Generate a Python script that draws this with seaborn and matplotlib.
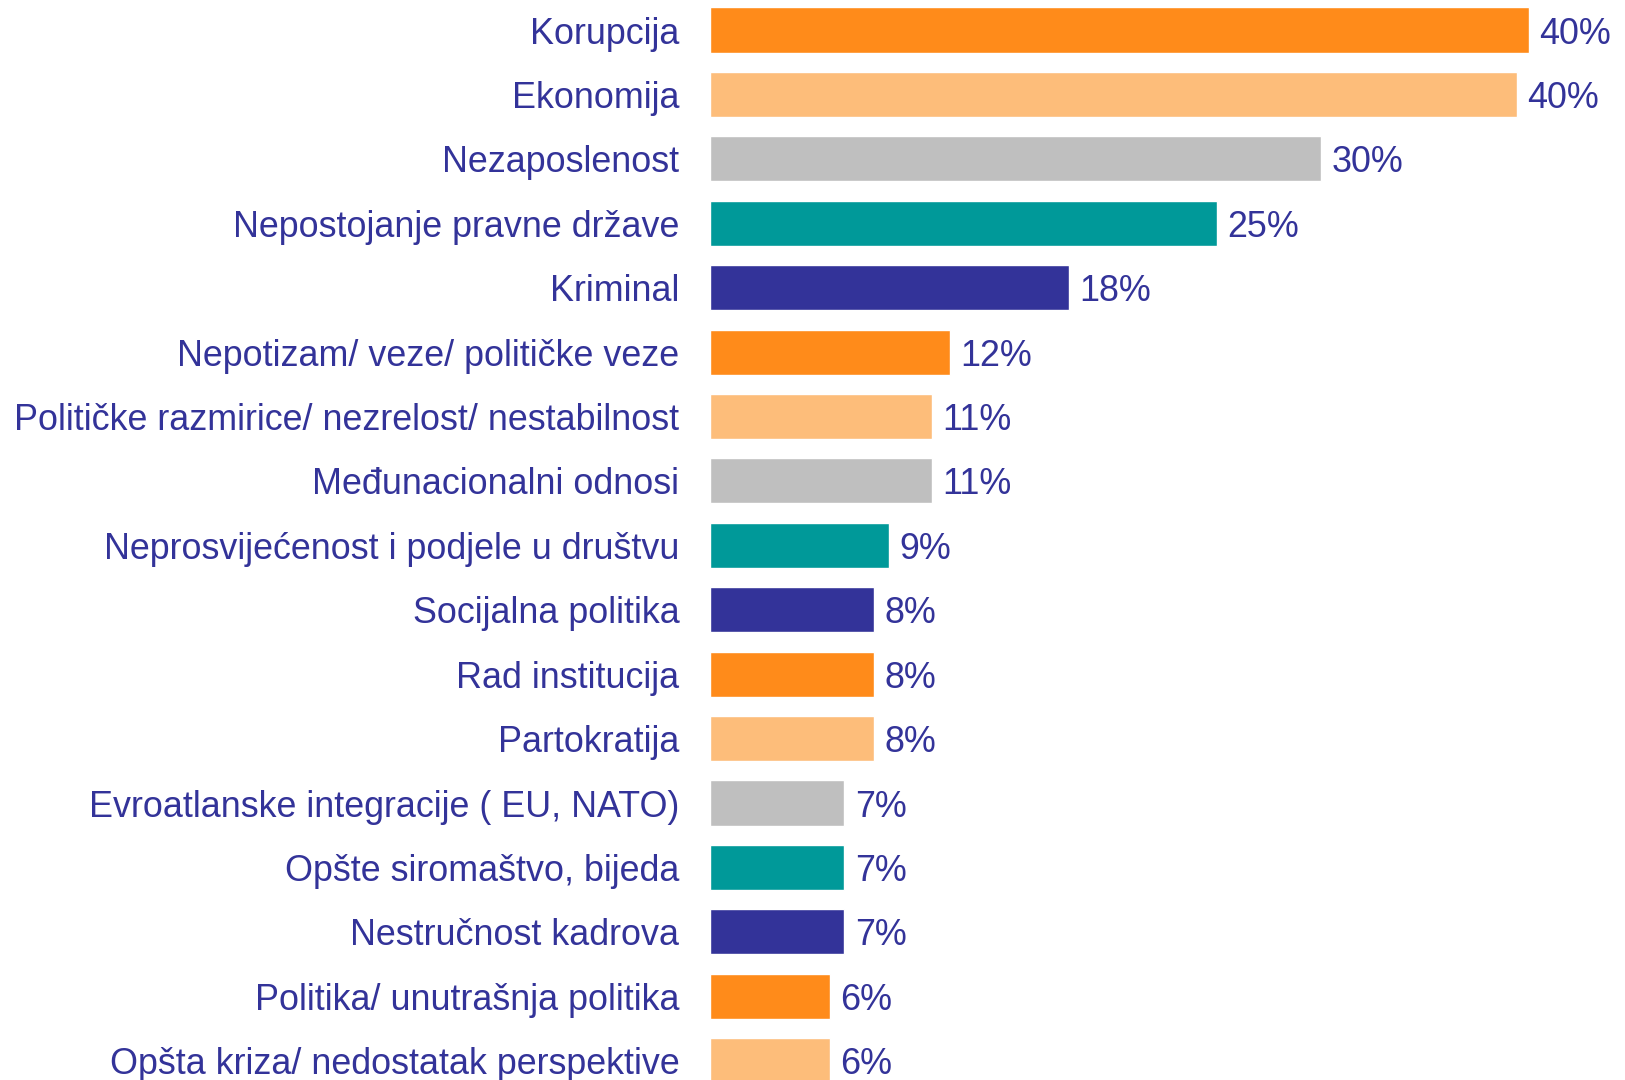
import numpy as np
import pandas as pd
import matplotlib
matplotlib.use("Agg")
import matplotlib.pyplot as plt
import seaborn as sns

# === Data ===
categories = [
    "Korupcija",
    "Ekonomija",
    "Nezaposlenost",
    "Nepostojanje pravne države",
    "Kriminal",
    "Nepotizam/ veze/ političke veze",
    "Političke razmirice/ nezrelost/ nestabilnost",
    "Međunacionalni odnosi",
    "Neprosvijećenost i podjele u društvu",
    "Socijalna politika",
    "Rad institucija",
    "Partokratija",
    "Evroatlanske integracije ( EU, NATO)",
    "Opšte siromaštvo, bijeda",
    "Nestručnost kadrova",
    "Politika/ unutrašnja politika",
    "Opšta kriza/ nedostatak perspektive",
]
values = [40.2, 39.6, 30.0, 24.9, 17.6, 11.8, 10.9, 10.9, 8.8, 8.05, 8.05, 8.05, 6.6, 6.6, 6.6, 5.9, 5.9]
value_labels = ["40%", "40%", "30%", "25%", "18%", "12%", "11%", "11%", "9%",
                "8%", "8%", "8%", "7%", "7%", "7%", "6%", "6%"]
bar_colors = ["#FF8B1A", "#FDBD7A", "#BFBFBF", "#009999", "#333399"]

TEXT_COLOR = "#333399"
FONT_SIZE = 25.8

df = pd.DataFrame({"category": categories, "value": values})
palette = {c: bar_colors[i % len(bar_colors)] for i, c in enumerate(categories)}

sns.set_style("white")
plt.rcParams["font.family"] = ["Liberation Sans", "DejaVu Sans"]

fig = plt.figure(figsize=(16.25, 10.8), dpi=100)
ax = fig.add_axes([710 / 1625, 0, 1 - 710 / 1625, 1])

sns.barplot(data=df, x="value", y="category", hue="category", palette=palette,
            legend=False, width=0.7, saturation=1, ax=ax)

# --- value labels ---
for i, (v, lab) in enumerate(zip(values, value_labels)):
    ax.text(v + 0.5, i, lab, va="center_baseline", ha="left",
            fontsize=FONT_SIZE, color=TEXT_COLOR)

ax.set_xlim(0, 44.9)
ax.set_ylim(16.30, -0.466)
ax.set_xlabel("")
ax.set_ylabel("")
ax.set_xticks([])
ax.tick_params(axis="y", length=0, pad=22, labelsize=FONT_SIZE, labelcolor=TEXT_COLOR)
for s in ax.spines.values():
    s.set_visible(False)

fig.savefig("out.png", dpi=100)
plt.close(fig)
